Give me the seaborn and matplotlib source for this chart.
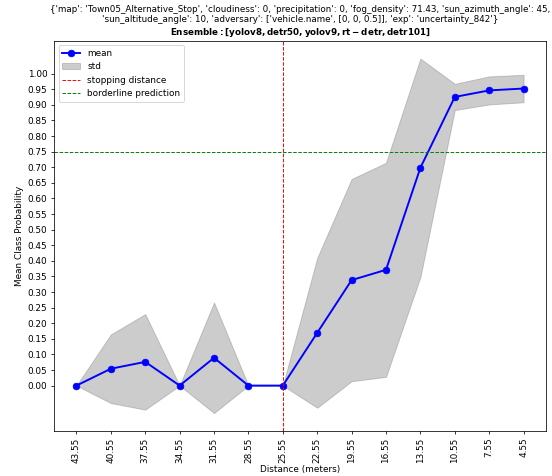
import numpy as np
import pandas as pd
import matplotlib
matplotlib.use("Agg")
import matplotlib.pyplot as plt
import seaborn as sns

# Data
distances = ["43.55", "40.55", "37.55", "34.55", "31.55", "28.55", "25.55",
             "22.55", "19.55", "16.55", "13.55", "10.55", "7.55", "4.55"]
mean_prob = [0.0, 0.054, 0.076, 0.0, 0.089, 0.0, 0.0,
             0.169, 0.338, 0.371, 0.698, 0.925, 0.946, 0.952]
std_prob = [0.0, 0.110, 0.153, 0.0, 0.177, 0.0, 0.0,
            0.240, 0.324, 0.343, 0.350, 0.042, 0.045, 0.044]
stopping_distance = "25.55"
borderline = 0.75

params_line1 = ("{'map': 'Town05_Alternative_Stop', 'cloudiness': 0, 'precipitation': 0, "
                "'fog_density': 71.43, 'sun_azimuth_angle': 45,")
params_line2 = ("'sun_altitude_angle': 10, 'adversary': ['vehicle.name', [0, 0, 0.5]], "
                "'exp': 'uncertainty_842'}")
ensemble = r"$\bf{Ensemble: [yolov8, detr50, yolov9, rt-detr, detr101]}$"

plt.rcParams["font.size"] = 9.3

df = pd.DataFrame({"pos": np.arange(len(distances)),
                   "mean": mean_prob,
                   "std": std_prob})

fig = plt.figure(figsize=(8, 6.9), dpi=69)
ax = fig.add_axes([0.098, 0.095, 0.891, 0.819])

# std band around the mean
lower = df["mean"] - df["std"]
upper = df["mean"] + df["std"]
ax.fill_between(df["pos"], lower, upper, color="gray", alpha=0.4, label="std")
sns.lineplot(data=df, x="pos", y="mean", ax=ax, color="blue", marker="o",
             markersize=7, markeredgecolor="blue", linewidth=2, label="mean")

ax.axvline(distances.index(stopping_distance), color="red", linestyle="--",
           linewidth=1, label="stopping distance")
ax.axhline(borderline, color="green", linestyle="--", linewidth=1,
           label="borderline prediction")

ax.set_xticks(df["pos"])
ax.set_xticklabels(distances, rotation=90)
ax.set_yticks(np.round(np.arange(0, 1.0001, 0.05), 2))
ax.set_xlabel("Distance (meters)", labelpad=2)
ax.set_ylabel("Mean Class Probability")
ax.set_title(params_line1 + "\n" + params_line2 + "\n" + ensemble, fontsize=9.2)

handles, labels = ax.get_legend_handles_labels()
order = [labels.index(k) for k in ["mean", "std", "stopping distance", "borderline prediction"]]
ax.legend([handles[i] for i in order], [labels[i] for i in order], loc="upper left")

fig.savefig("out.png", dpi=69)
